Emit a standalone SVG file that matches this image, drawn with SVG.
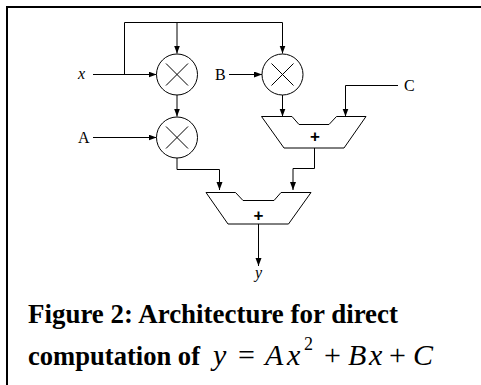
<svg xmlns="http://www.w3.org/2000/svg" width="481" height="385" viewBox="0 0 481 385">
<style>
.w{fill:none;stroke:#000;stroke-width:1}
.wa{fill:none;stroke:#000;stroke-width:1;marker-end:url(#a)}
.s{fill:#fff;stroke:#000;stroke-width:1}
.l{font-family:"Liberation Serif",serif;font-size:16px;fill:#000}
.i{font-style:italic}
.c{font-family:"Liberation Serif",serif;font-size:26.700px;font-weight:bold;fill:#000}
.m{font-family:"Liberation Serif",serif;font-size:30px;fill:#000}
.p{font-family:"Liberation Sans",sans-serif;font-size:17px;font-weight:bold;fill:#000;text-anchor:middle}
</style>
<defs>
<marker id="a" markerUnits="userSpaceOnUse" markerWidth="9" markerHeight="7" refX="8" refY="3" orient="auto"><path d="M0 0L8 3L0 6Z" fill="#000"/></marker>
</defs>
<path d="M7 385V7H481" fill="none" stroke="#000" stroke-width="2"/>
<g id="connectors">
<path class="wa" d="M93 74.500H156.500"/>
<path class="w" d="M124.500 74.500V22.500H282.500"/>
<path class="wa" d="M177 22.500V53.500"/>
<path class="wa" d="M282.500 22.500V53.500"/>
<path class="wa" d="M93 137.500H156.500"/>
<path class="wa" d="M177 95V116.500"/>
<path class="wa" d="M229 74.500H262"/>
<path class="wa" d="M282.500 95V116.500"/>
<path class="wa" d="M398 85.500H345.500V116.500"/>
<path class="wa" d="M177 158V169.500H219.500V190"/>
<path class="wa" d="M314.500 148V168.500H293V190"/>
<path class="wa" d="M258.500 224V266"/>
</g>
<g id="mul1"><circle class="s" cx="177" cy="74.500" r="20.500"/><path class="w" d="M166 63.500L188 85.500M188 63.500L166 85.500"/></g>
<g id="mul2"><circle class="s" cx="177" cy="137.500" r="20.500"/><path class="w" d="M166 126.500L188 148.500M188 126.500L166 148.500"/></g>
<g id="mul3"><circle class="s" cx="282.500" cy="74.500" r="20.500"/><path class="w" d="M271.500 63.500L293.500 85.500M293.500 63.500L271.500 85.500"/></g>
<g id="add1"><path class="s" d="M261.500 116.500H292L299 124.500H329L336.500 116.500H366L344 148H284Z"/><text class="p" x="315" y="141.500">+</text></g>
<g id="add2"><path class="s" d="M206 192.500H235.500L243 200.500H274L281 192.500H311L288.500 224H228Z"/><text class="p" x="258.500" y="221">+</text></g>
<g id="labels">
<text class="l i" x="78" y="79">x</text>
<text class="l" x="78" y="143">A</text>
<text class="l" x="215" y="80">B</text>
<text class="l" x="404" y="91">C</text>
<text class="l i" x="255" y="278">y</text>
</g>
<g id="caption">
<text class="c" x="28" y="323" textLength="370" lengthAdjust="spacingAndGlyphs">Figure 2: Architecture for direct</text>
<text class="c" x="28" y="365" textLength="172" lengthAdjust="spacingAndGlyphs">computation of</text>
<text class="m i" x="213" y="365">y</text>
<text class="m" x="238" y="365">=</text>
<text class="m i" x="265" y="365">A</text>
<text class="m i" x="287" y="365">x</text>
<text class="l" x="304" y="350" style="font-size:18px">2</text>
<text class="m" x="324" y="365">+</text>
<text class="m i" x="348" y="365">B</text>
<text class="m i" x="369" y="365">x</text>
<text class="m" x="389" y="365">+</text>
<text class="m i" x="413" y="365">C</text>
</g>
</svg>
